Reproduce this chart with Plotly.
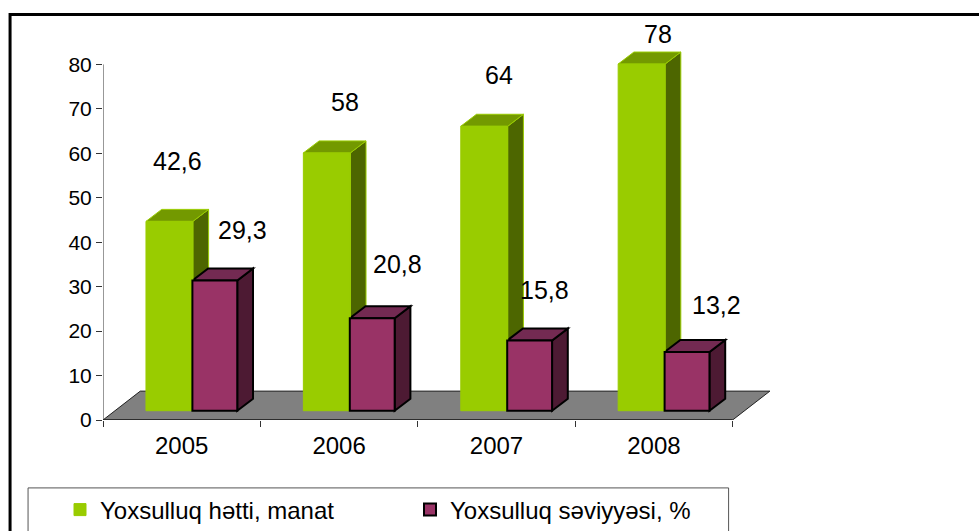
"""Yoxsulluq göstəriciləri: psevdo-3D sütun diaqramı"""

import plotly.graph_objects as go

W, H = 979, 531
PLOT_L, PLOT_R, PLOT_T, PLOT_B = 103, 890.5, 19.5, 420

years = ["2005", "2006", "2007", "2008"]
poverty_line = [42.6, 58, 64, 78]
poverty_rate = [29.3, 20.8, 15.8, 13.2]
line_labels = ["42,6", "58", "64", "78"]
rate_labels = ["29,3", "20,8", "15,8", "13,2"]
y_ticks = [0, 10, 20, 30, 40, 50, 60, 70, 80]

GREEN = ("#99CC00", "#739900", "#4D6600")
PURPLE = ("#993366", "#732A52", "#4D1A33")

# sahtə 3D həndəsəsi (ox vahidlərində)
BASE = 2.09
BAR_DX, BAR_DY = 0.1, 2.7
FLOOR_DX, FLOOR_DY = 0.237, 6.5
GREEN_OFF, GREEN_W = -0.227, 0.298
PURPLE_OFF, PURPLE_W = 0.068, 0.285

x_pos = [i + 0.5 for i in range(len(years))]


def poly(points, fill, line_color, line_width=1):
    path = "M" + " L".join(f"{x},{y}" for x, y in points) + " Z"
    return dict(type="path", path=path, xref="x", yref="y", layer="below",
                fillcolor=fill, line=dict(color=line_color, width=line_width))


def bar_faces(x, off, width, value, colors, line_color, line_width):
    left = x + off
    right = left + width
    top = BASE + value
    roof = [(left, top), (right, top), (right + BAR_DX, top + BAR_DY), (left + BAR_DX, top + BAR_DY)]
    side = [(right, BASE), (right + BAR_DX, BASE + BAR_DY), (right + BAR_DX, top + BAR_DY), (right, top)]
    return [poly(side, colors[2], line_color, line_width), poly(roof, colors[1], line_color, line_width)]


shapes = [poly([(0, 0), (4, 0), (4 + FLOOR_DX, FLOOR_DY), (FLOOR_DX, FLOOR_DY)], "#808080", "#222222", 1)]
for x, v in zip(x_pos, poverty_line):
    shapes += bar_faces(x, GREEN_OFF, GREEN_W, v, GREEN, "#99CC00", 1)
for x, v in zip(x_pos, poverty_rate):
    shapes += bar_faces(x, PURPLE_OFF, PURPLE_W, v, PURPLE, "#000000", 2)

# ox xətləri yalnız 0-80 və 0-4 aralığında
shapes.append(dict(type="line", xref="x", yref="y", x0=0, x1=0, y0=0, y1=80,
                   line=dict(color="#333333", width=1)))
shapes.append(dict(type="line", xref="x", yref="y", x0=0, x1=4, y0=0, y1=0,
                   line=dict(color="#222222", width=1.5)))

px_x = lambda px: (px - PLOT_L) / (PLOT_R - PLOT_L)
px_y = lambda px: (PLOT_B - px) / (PLOT_B - PLOT_T)

# xarici çərçivə və legend qutusu
shapes.append(dict(type="rect", xref="paper", yref="paper", x0=px_x(10), x1=px_x(W + 10),
                   y0=px_y(H + 10), y1=px_y(14), line=dict(color="#000000", width=3)))
shapes.append(dict(type="rect", xref="paper", yref="paper", x0=px_x(28), x1=px_x(729),
                   y0=px_y(H + 10), y1=px_y(488), line=dict(color="#555555", width=1)))

fig = go.Figure()
fig.add_trace(go.Bar(
    x=x_pos, y=poverty_line, base=BASE, offset=GREEN_OFF, width=GREEN_W,
    name="Yoxsulluq hətti, manat",
    marker=dict(color=GREEN[0], line=dict(color=GREEN[0], width=1)),
))
fig.add_trace(go.Bar(
    x=x_pos, y=poverty_rate, base=BASE, offset=PURPLE_OFF, width=PURPLE_W,
    name="Yoxsulluq səviyyəsi, %",
    marker=dict(color=PURPLE[0], line=dict(color="#000000", width=2)),
))

# etiketlər əl ilə yerləşdirilib: sütunun üstündən piksel sürüşməsi
line_shift = [(-4, 60), (6, 51), (2, 51), (4, 30)]
rate_shift = [(6, 50), (3, 54), (-7, 50), (8, 47)]
annotations = []
for x, v, label, (dx, dy) in zip(x_pos, poverty_line, line_labels, line_shift):
    annotations.append(dict(x=x, y=BASE + v, text=label, showarrow=False, xshift=dx, yshift=dy,
                            font=dict(size=25)))
for x, v, label, (dx, dy) in zip(x_pos, poverty_rate, rate_labels, rate_shift):
    annotations.append(dict(x=x + 0.35, y=BASE + v, text=label, showarrow=False, xshift=dx, yshift=dy,
                            font=dict(size=25)))

fig.update_layout(
    width=W, height=H, autosize=False,
    margin=dict(l=PLOT_L, r=W - PLOT_R, t=PLOT_T, b=H - PLOT_B, autoexpand=False),
    paper_bgcolor="white", plot_bgcolor="white",
    barmode="overlay",
    font=dict(family="Liberation Sans, Arial, sans-serif", size=21, color="#000000"),
    shapes=shapes, annotations=annotations,
    xaxis=dict(
        range=[0, 5], tickmode="array", tickvals=x_pos, ticktext=years, ticks="", showgrid=False,
        zeroline=False, showline=False, tickfont=dict(size=24),
        ticklabelstandoff=9,
        minor=dict(tickmode="array", tickvals=[0, 1, 2, 3, 4], ticks="outside", ticklen=6,
                   tickcolor="#333333", showgrid=False),
    ),
    yaxis=dict(
        range=[0, 90], tickmode="array", tickvals=y_ticks, ticks="outside", ticklen=6,
        tickcolor="#333333", showgrid=False, zeroline=False, showline=False, tickfont=dict(size=21),
    ),
    legend=dict(
        orientation="h", xref="container", yref="container", x=60 / W, y=1 - 510 / H,
        xanchor="left", yanchor="middle", entrywidth=305, entrywidthmode="pixels",
        font=dict(size=24), bgcolor="rgba(0,0,0,0)", itemwidth=30, traceorder="normal",
    ),
)

fig.write_html("out.html", config=dict(displayModeBar=False),
               post_script="document.body.style.margin='0';document.body.style.overflow='hidden';")
